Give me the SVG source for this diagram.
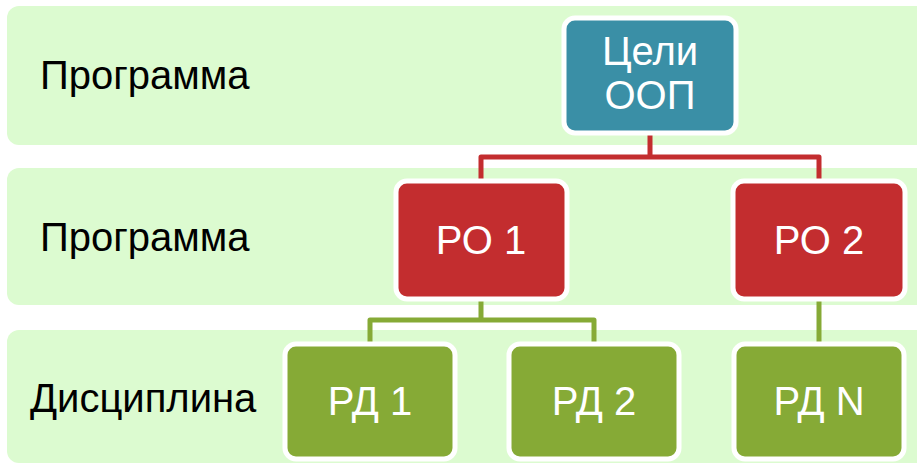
<svg xmlns="http://www.w3.org/2000/svg" width="917" height="465" viewBox="0 0 917 465">
<style>
.band{fill:#dcfbd0}
.lbl{font-family:"Liberation Sans",Arial,sans-serif;font-size:40px;fill:#000}
.node rect{stroke:#fff;stroke-width:5}
.node text{font-family:"Liberation Sans",Arial,sans-serif;font-size:40px;fill:#fff;text-anchor:middle}
.teal{fill:#3a8fa6}
.red{fill:#c32d2f}
.green{fill:#86aa36}
.cr{fill:none;stroke:#c32d2f;stroke-width:5;stroke-linejoin:round}
.cg{fill:none;stroke:#86aa36;stroke-width:5;stroke-linejoin:round}
</style>
<rect width="917" height="465" fill="#fff"/>
<g id="bands">
<rect class="band" x="7" y="6" width="922" height="139" rx="12"/>
<rect class="band" x="7" y="168" width="922" height="137" rx="12"/>
<rect class="band" x="7" y="330" width="922" height="133" rx="12"/>
<text class="lbl" x="40" y="89">Программа</text>
<text class="lbl" x="40" y="251">Программа</text>
<text class="lbl" x="30" y="412">Дисциплина</text>
</g>
<g id="connectors">
<path class="cr" d="M650 133 V157 H481 V181 M650 157 H819 V181"/>
<path class="cg" d="M481 299 V320 H370 V344 M481 320 H594 V344"/>
<path class="cg" d="M819 299 V344"/>
</g>
<g id="goals" class="node">
<rect class="teal" x="564" y="18" width="172" height="115" rx="11"/>
<text x="650" y="65">Цели</text>
<text x="650" y="109">ООП</text>
</g>
<g id="ro1" class="node">
<rect class="red" x="396" y="181" width="171" height="118" rx="11"/>
<text x="481" y="254">РО 1</text>
</g>
<g id="ro2" class="node">
<rect class="red" x="733" y="181" width="172" height="118" rx="11"/>
<text x="819" y="254">РО 2</text>
</g>
<g id="rd1" class="node">
<rect class="green" x="285" y="344" width="170" height="115" rx="11"/>
<text x="370" y="415">РД 1</text>
</g>
<g id="rd2" class="node">
<rect class="green" x="509" y="344" width="170" height="115" rx="11"/>
<text x="594" y="415">РД 2</text>
</g>
<g id="rdn" class="node">
<rect class="green" x="734" y="344" width="170" height="115" rx="11"/>
<text x="819" y="415">РД N</text>
</g>
</svg>
